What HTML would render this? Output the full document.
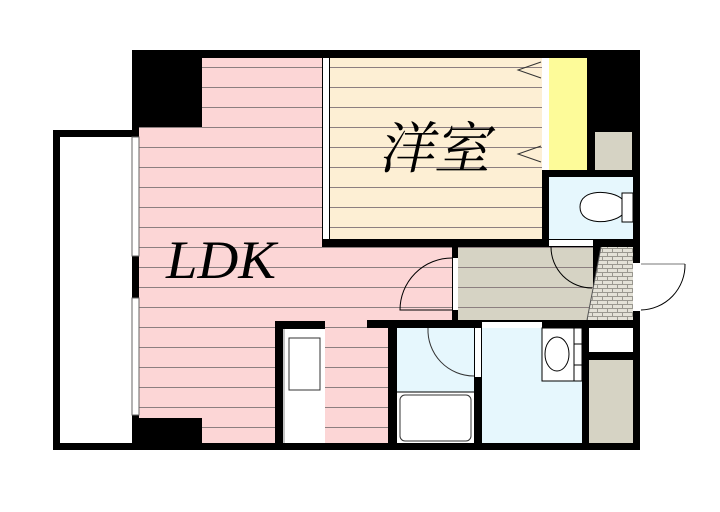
<!DOCTYPE html>
<html><head><meta charset="utf-8"><style>html,body{margin:0;padding:0;background:#fff}svg{display:block}</style></head><body>
<svg width="720" height="512" viewBox="0 0 720 512" xmlns="http://www.w3.org/2000/svg">
<defs>
<pattern id="hl" x="0" y="7" width="10" height="20" patternUnits="userSpaceOnUse"><rect width="10" height="20" fill="none"/><line x1="0" y1="0.5" x2="10" y2="0.5" stroke="#8c7f80" stroke-width="1"/></pattern>
<pattern id="tile" x="0" y="0" width="10" height="8" patternUnits="userSpaceOnUse"><rect width="10" height="8" fill="#e4e2d8"/><path d="M0 0.5H10M0 4.5H10M2.5 0V4.5M7.5 4.5V8" stroke="#9a9890" stroke-width="1" fill="none"/></pattern>
</defs>
<rect x="53" y="130" width="86" height="320" fill="#000"/>
<rect x="60" y="137" width="72" height="306" fill="#fff"/>
<rect x="132" y="50" width="508" height="400" fill="#000"/>
<rect x="139" y="127" width="313" height="316" fill="#fcd6d6"/>
<rect x="202" y="58" width="120" height="80" fill="#fcd6d6"/>
<rect x="139" y="58" width="313" height="385" fill="url(#hl)"/>
<rect x="132" y="50" width="70" height="77" fill="#000"/>
<rect x="132" y="418" width="70" height="25" fill="#000"/>
<rect x="132" y="137" width="7" height="119" fill="#fff" stroke="#666" stroke-width="1"/>
<rect x="132" y="298" width="7" height="117" fill="#fff" stroke="#666" stroke-width="1"/>
<rect x="322" y="50" width="8" height="197" fill="#000"/>
<rect x="323" y="58" width="6" height="181" fill="#fff"/>
<rect x="330" y="58" width="212" height="181" fill="#fdefd4"/>
<rect x="330" y="58" width="212" height="181" fill="url(#hl)"/>
<rect x="322" y="239" width="130" height="8" fill="#000"/>
<polyline points="541,62 518,70 541,78" fill="none" stroke="#333" stroke-width="1"/>
<polyline points="541,146 518,154 541,162" fill="none" stroke="#333" stroke-width="1"/>
<rect x="542" y="58" width="7" height="112" fill="#fff"/>
<rect x="549" y="58" width="38" height="112" fill="#fdfb99"/>
<rect x="595" y="132" width="37" height="38" fill="#d6d3c4"/>
<rect x="549" y="177" width="84" height="62" fill="#e6f7fd"/>
<path d="M622 199 C612 190 580 188 580 207 C580 226 612 224 622 215 Z" fill="#fff" stroke="#000" stroke-width="1"/>
<rect x="622" y="193" width="11" height="29" fill="#fff" stroke="#000" stroke-width="1"/>
<rect x="549" y="240" width="44" height="6" fill="#fff"/>
<rect x="458" y="247" width="135" height="73" fill="#d6d3c4"/>
<rect x="458" y="247" width="135" height="73" fill="url(#hl)"/>
<polygon points="601,247 633,247 633,320 587,320" fill="url(#tile)"/>
<line x1="601" y1="247" x2="587" y2="320" stroke="#555" stroke-width="1"/>
<path d="M551 247 A41 41 0 0 0 592 288" fill="none" stroke="#000" stroke-width="1"/>
<rect x="452" y="247" width="6" height="73" fill="#000"/>
<rect x="453" y="258" width="5" height="52" fill="#fff"/>
<path d="M452 258 A52 52 0 0 0 400 310 L452 310" fill="none" stroke="#000" stroke-width="1"/>
<rect x="633" y="263" width="7" height="48" fill="#fff"/>
<line x1="641" y1="264" x2="685" y2="264" stroke="#777" stroke-width="1"/>
<path d="M685 264 A45 45 0 0 1 641 310" fill="none" stroke="#000" stroke-width="1"/>
<rect x="367" y="320" width="273" height="8" fill="#000"/>
<rect x="275" y="321" width="50" height="8" fill="#000"/>
<rect x="275" y="321" width="8" height="122" fill="#000"/>
<rect x="283" y="329" width="42" height="114" fill="#fff"/>
<rect x="289" y="338" width="31" height="52" fill="#fff" stroke="#333" stroke-width="1"/>
<line x1="284" y1="329" x2="284" y2="443" stroke="#888" stroke-width="1"/>
<rect x="388" y="321" width="9" height="129" fill="#000"/>
<rect x="397" y="328" width="77" height="115" fill="#e6f7fd"/>
<rect x="397" y="392" width="77" height="51" fill="#fff"/>
<line x1="397" y1="392" x2="474" y2="392" stroke="#000" stroke-width="1"/>
<rect x="400" y="395" width="71" height="46" rx="5" fill="#fff" stroke="#333" stroke-width="1"/>
<path d="M428 328 A46 46 0 0 0 474 376" fill="none" stroke="#333" stroke-width="1"/>
<rect x="474" y="328" width="8" height="115" fill="#000"/>
<rect x="475" y="328" width="6" height="49" fill="#fff"/>
<rect x="482" y="328" width="100" height="115" fill="#e6f7fd"/>
<rect x="482" y="322" width="60" height="6" fill="#fff"/>
<rect x="542" y="328" width="40" height="53" fill="#fff" stroke="#000" stroke-width="1"/>
<ellipse cx="557" cy="354" rx="12" ry="17" fill="#fff" stroke="#000" stroke-width="1"/>
<line x1="574" y1="328" x2="574" y2="381" stroke="#000" stroke-width="1"/>
<line x1="574" y1="344" x2="582" y2="344" stroke="#000" stroke-width="1"/>
<line x1="574" y1="365" x2="582" y2="365" stroke="#000" stroke-width="1"/>
<rect x="582" y="321" width="7" height="129" fill="#000"/>
<rect x="589" y="328" width="44" height="24" fill="#fff"/>
<rect x="589" y="360" width="44" height="83" fill="#d6d3c4"/>
<text x="166" y="278" font-family="Liberation Serif, serif" font-style="italic" font-size="54" fill="#000" textLength="110" lengthAdjust="spacingAndGlyphs">LDK</text>
<text x="0" y="0" transform="translate(378,168) skewX(-12)" font-family="Liberation Serif, 'Noto Serif CJK SC', serif" font-size="56" fill="#000" textLength="112" lengthAdjust="spacingAndGlyphs">洋室</text>
</svg>
</body></html>
